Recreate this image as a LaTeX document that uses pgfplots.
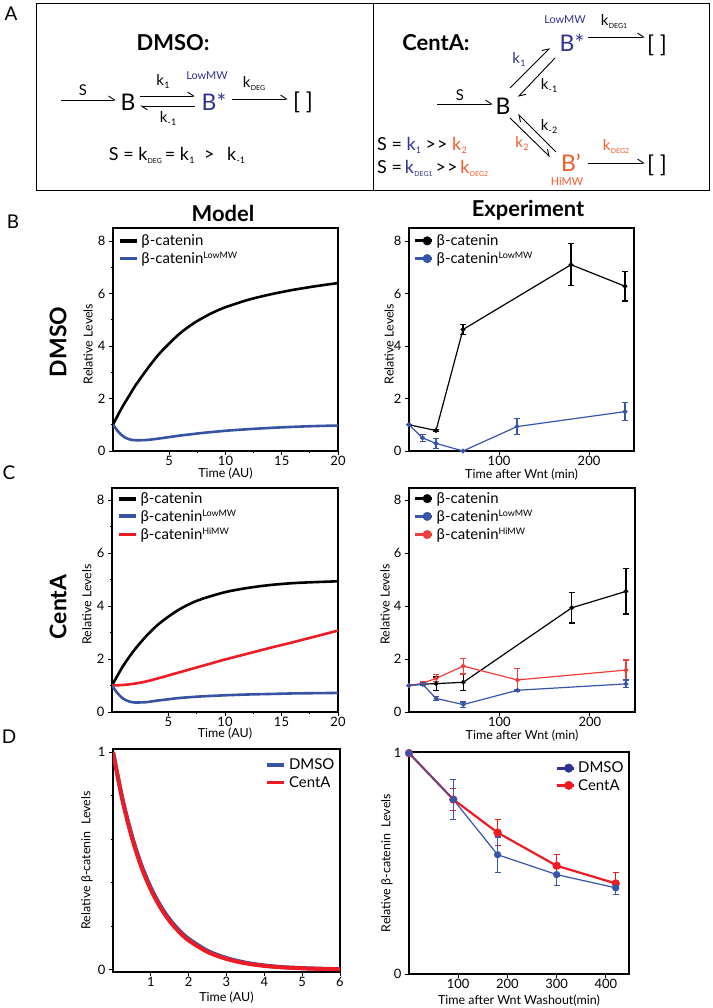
\documentclass[border=0pt]{standalone}
\usepackage{fontspec}
\setmainfont{Lato}
\usepackage{pgfplots}
\pgfplotsset{compat=1.18}
\usetikzlibrary{arrows.meta}
\definecolor{sblue}{RGB}{46,49,146}
\definecolor{sorange}{RGB}{241,90,41}
\definecolor{pblue}{RGB}{57,83,164}
\definecolor{pred}{RGB}{237,28,36}
\definecolor{eblue}{RGB}{55,85,170}
\definecolor{ered}{RGB}{240,60,60}
\newcommand{\fs}[1]{\fontsize{#1}{#1}\selectfont}
\newcommand{\ks}[1]{k\kern0.3bp\raisebox{-3bp}{\fs{7}#1}}
\newcommand{\kb}[1]{k\kern0.3bp\raisebox{-3bp}{\fs{9}#1}}
\newcommand{\mgg}{>\kern1bp>}
\newcommand{\cat}{β-catenin}
\tikzset{har/.style={line width=0.9bp,-{Straight Barb[left,length=6bp,width=8bp]}}}
\pgfplotsset{
  base/.style={scale only axis, axis line style={line width=1.1bp},
    every tick/.style={black, line width=0.8bp}, major tick length=4bp, minor tick length=2.5bp,
    tick align=outside, xtick pos=bottom, ytick pos=left,
    /pgf/number format/assume math mode=true,
    ticklabel style={font=\fs{13}}, xticklabel style={yshift=2bp}, label style={font=\fs{12.5}},
    legend cell align=left,
    legend style={draw=none, fill=none, inner sep=0bp, font=\fs{15}, row sep=1bp,
      /tikz/every odd column/.append style={column sep=1bp}}},
  modleg/.style={legend image code/.code={\draw[##1, line width=3.8bp] (0bp,0bp) -- (17bp,0bp);}},
  expleg/.style={legend image code/.code={\draw[##1, line width=3bp] (0bp,0bp) -- (17bp,0bp); \fill[##1] (12bp,0bp) circle (4.3bp);}},
  mline/.style={line width=2.6bp, smooth},
  eline/.style={line width=1.2bp, mark=*, mark size=1.8bp,
    error bars/y dir=both, error bars/y explicit,
    error bars/error bar style={line width=1.2bp},
    error bars/error mark options={rotate=90, mark size=3bp, line width=1.2bp}},
}
\begin{document}
\begin{tikzpicture}[x=1bp,y=1bp]
\path[use as bounding box] (0,0) rectangle (713,1008);
% ---------- Panel A ----------
\node[font=\fs{19}] at (11,994) {A};
\draw[line width=1bp] (36,1004) rectangle (709,817);
\draw[line width=1bp] (373,1004) -- (373,817);
\node[font=\bfseries\fs{22}] at (173,965) {DMSO:};
\node[font=\bfseries\fs{22}] at (436,965) {CentA:};
% DMSO scheme
\draw[har] (61,908) -- (116,908);
\node[font=\fs{15}] at (83,918) {S};
\node[font=\fs{23}] at (128,906) {B};
\draw[har] (140,912) -- (195,912);
\draw[har] (195,902) -- (140,902);
\node[font=\fs{15}] at (163,926) {\kb{1}};
\node[font=\fs{15}] at (168,889) {\kb{-1}};
\node[font=\fs{11}, text=sblue] at (207,932) {LowMW};
\node[font=\fs{23}, text=sblue] at (214,906) {B*};
\draw[har] (232,909) -- (288,909);
\node[font=\fs{15}] at (254,924) {\ks{DEG}};
\node[font=\fs{23}] at (303,906) {[ ]};
\node[font=\fs{18}] at (177,853) {S = \ks{DEG}\,= \kb{1}\; >\;\, \kb{-1}};
% CentA scheme
\draw[har] (437,904) -- (493,904);
\node[font=\fs{15}] at (460,913) {S};
\node[font=\fs{23}] at (503,902) {B};
\draw[har] (510,920) -- (550,960);
\draw[har] (555,950) -- (518,911);
\node[font=\fs{15}, text=sblue] at (519,948) {\kb{1}};
\node[font=\fs{15}] at (549,922) {\kb{-1}};
\node[font=\fs{23}, text=sblue] at (572,965) {B*};
\node[font=\fs{11}, text=sblue] at (565,988) {LowMW};
\draw[har] (588,971) -- (645,971);
\node[font=\fs{15}] at (614,986) {\ks{DEG1}};
\node[font=\fs{23}] at (657,963) {[ ]};
\draw[har] (510,890) -- (550,851);
\draw[har] (556,856) -- (518,894);
\node[font=\fs{15}] at (549,881) {\kb{-2}};
\node[font=\fs{15}, text=sorange] at (522,864) {\kb{2}};
\node[font=\fs{23}, text=sorange] at (571,845) {B’};
\node[font=\fs{11}, text=sorange] at (567,826) {HiMW};
\draw[har] (588,845) -- (645,845);
\node[font=\fs{15}, text=sorange] at (616,861) {\ks{DEG2}};
\node[font=\fs{23}] at (657,843) {[ ]};
\node[font=\fs{18}, anchor=west, inner sep=0pt] at (377,863) {S = \textcolor{sblue}{\kb{1}} \mgg{} \textcolor{sorange}{\kb{2}}};
\node[font=\fs{18}, anchor=west, inner sep=0pt] at (377,840) {S =\,\textcolor{sblue}{\ks{DEG1}}\,\mgg{}\,\textcolor{sorange}{\ks{DEG2}}};
% ---------- labels ----------
\node[font=\fs{19}] at (13,786) {B};
\node[font=\fs{19}] at (9,535) {C};
\node[font=\fs{19}] at (9,271) {D};
\node[font=\bfseries\fs{22}] at (223,795) {Model};
\node[font=\bfseries\fs{22}] at (528,798) {Experiment};
\node[font=\bfseries\fs{23}, rotate=90] at (58,666) {DMSO};
\node[font=\bfseries\fs{23}, rotate=90] at (58,401) {CentA};
% ---------- B left ----------
\begin{axis}[base, modleg, at={(113bp,557bp)}, anchor=south west, width=225bp, height=223bp,
  xmin=0, xmax=20, ymin=0, ymax=8.5, xtick={5,10,15,20}, minor x tick num=1,
  ytick={0,2,4,6,8}, minor y tick num=1,
  xlabel={Time (AU)}, ylabel={Relative Levels},
  xlabel style={at={(axis description cs:0.5,-0.1)}, anchor=center},
  ylabel style={at={(axis description cs:-0.111,0.48)}, anchor=center},
  legend style={at={(0.02,0.98)}, anchor=north west}]
\addlegendimage{black}\addlegendentry{\cat}
\addlegendimage{pblue}\addlegendentry{\cat\textsuperscript{\fs{9}LowMW}}
\addplot[black, mline, forget plot] coordinates {(0,1.0) (0.5,1.42) (1,1.8) (1.5,2.15) (2,2.5) (3,3.1) (4,3.65) (5,4.1) (6,4.5) (7,4.82) (8,5.08) (9,5.3) (10,5.48) (12,5.76) (14,5.97) (16,6.14) (18,6.28) (20,6.4)};
\addplot[pblue, mline, forget plot] coordinates {(0,1.0) (0.5,0.72) (1,0.53) (1.5,0.44) (2,0.41) (3,0.42) (4,0.47) (5,0.53) (6,0.59) (7,0.64) (8,0.69) (10,0.77) (12,0.83) (14,0.88) (16,0.92) (18,0.95) (20,0.97)};
\end{axis}
% ---------- B right ----------
\begin{axis}[base, expleg, clip=false, at={(409bp,557bp)}, anchor=south west, width=225bp, height=223bp,
  xmin=0, xmax=250, ymin=0, ymax=8.5, xtick={100,200}, ytick={0,2,4,6,8},
  xlabel={Time after Wnt (min)}, ylabel={Relative Levels},
  xlabel style={at={(axis description cs:0.5,-0.105)}, anchor=center},
  ylabel style={at={(axis description cs:-0.089,0.48)}, anchor=center},
  legend style={at={(0.02,0.98)}, anchor=north west}]
\addlegendimage{black}\addlegendentry{\cat}
\addlegendimage{eblue}\addlegendentry{\cat\textsuperscript{\fs{9}LowMW}}
\addplot[black, eline, forget plot] coordinates {(0,1) +- (0,0) (30,0.78) +- (0,0.05) (60,4.63) +- (0,0.2) (180,7.1) +- (0,0.8) (240,6.28) +- (0,0.56)};
\addplot[eblue, eline, forget plot] coordinates {(0,1) +- (0,0) (15,0.5) +- (0,0.13) (30,0.29) +- (0,0.2) (60,0.0) +- (0,0.03) (120,0.93) +- (0,0.3) (240,1.5) +- (0,0.34)};
\end{axis}
% ---------- C left ----------
\begin{axis}[base, modleg, at={(112bp,296bp)}, anchor=south west, width=226bp, height=224bp,
  xmin=0, xmax=20, ymin=0, ymax=8.45, xtick={5,10,15,20}, minor x tick num=1,
  ytick={0,2,4,6,8}, minor y tick num=1,
  xlabel={Time (AU)}, ylabel={Relative Levels},
  xlabel style={at={(axis description cs:0.5,-0.097)}, anchor=center},
  ylabel style={at={(axis description cs:-0.111,0.48)}, anchor=center},
  legend style={at={(0.02,0.99)}, anchor=north west}]
\addlegendimage{black}\addlegendentry{\cat}
\addlegendimage{pblue}\addlegendentry{\cat\textsuperscript{\fs{9}LowMW}}
\addlegendimage{pred}\addlegendentry{\cat\textsuperscript{\fs{9}HiMW}}
\addplot[black, mline, forget plot] coordinates {(0,1.0) (1,1.75) (2,2.35) (3,2.85) (4,3.27) (5,3.6) (6,3.88) (7,4.1) (8,4.27) (10,4.52) (12,4.68) (14,4.79) (16,4.86) (18,4.9) (20,4.93)};
\addplot[pred, mline, forget plot] coordinates {(0,1.0) (1,1.02) (2,1.07) (3,1.15) (4,1.26) (5,1.38) (6,1.5) (7,1.62) (8,1.74) (9,1.86) (10,1.98) (12,2.2) (14,2.42) (16,2.63) (18,2.85) (20,3.07)};
\addplot[pblue, mline, forget plot] coordinates {(0,1.0) (0.5,0.7) (1,0.5) (1.5,0.4) (2,0.36) (3,0.37) (4,0.43) (5,0.48) (6,0.53) (8,0.59) (10,0.63) (12,0.66) (14,0.68) (16,0.7) (18,0.71) (20,0.72)};
\end{axis}
% ---------- C right ----------
\begin{axis}[base, expleg, clip=false, at={(409bp,296bp)}, anchor=south west, width=226bp, height=224bp,
  xmin=0, xmax=250, ymin=0, ymax=8.45, xtick={100,200}, ytick={0,2,4,6,8},
  xlabel={Time after Wnt (min)}, ylabel={Relative Levels},
  xlabel style={at={(axis description cs:0.5,-0.105)}, anchor=center},
  ylabel style={at={(axis description cs:-0.106,0.48)}, anchor=center},
  legend style={at={(0.02,0.99)}, anchor=north west}]
\addlegendimage{black}\addlegendentry{\cat}
\addlegendimage{eblue}\addlegendentry{\cat\textsuperscript{\fs{9}LowMW}}
\addlegendimage{ered}\addlegendentry{\cat\textsuperscript{\fs{9}HiMW}}
\addplot[black, eline, forget plot] coordinates {(0,1) +- (0,0) (15,1.05) +- (0,0.05) (30,1.07) +- (0,0.25) (60,1.12) +- (0,0.3) (180,3.93) +- (0,0.57) (240,4.55) +- (0,0.85)};
\addplot[ered, eline, forget plot] coordinates {(0,1) +- (0,0) (15,1.08) +- (0,0.05) (30,1.27) +- (0,0.13) (60,1.73) +- (0,0.3) (120,1.21) +- (0,0.42) (240,1.58) +- (0,0.38)};
\addplot[eblue, eline, forget plot] coordinates {(0,1) +- (0,0) (15,1.05) +- (0,0.05) (30,0.51) +- (0,0.08) (60,0.28) +- (0,0.1) (120,0.82) +- (0,0.04) (240,1.06) +- (0,0.15)};
\end{axis}
% ---------- D left ----------
\begin{axis}[base, modleg, at={(113bp,36bp)}, anchor=south west, width=227bp, height=223bp,
  xmin=0, xmax=6, ymin=-0.01, ymax=1.014, xtick={1,2,3,4,5,6},
  ytick={0,1}, minor ytick={0.2,0.4,0.6,0.8},
  xlabel={Time (AU)}, ylabel={Relative \cat\ \ Levels},
  xlabel style={at={(axis description cs:0.5,-0.115)}, anchor=center},
  ylabel style={at={(axis description cs:-0.115,0.5)}, anchor=center},
  legend style={at={(0.985,0.965)}, anchor=north east}]
\addlegendimage{pblue}\addlegendentry{DMSO}
\addlegendimage{pred}\addlegendentry{CentA}
\addplot[pblue, line width=4bp, smooth, forget plot] coordinates {(0,1) (0.25,0.785) (0.5,0.615) (0.75,0.481) (1,0.377) (1.25,0.295) (1.5,0.231) (1.75,0.181) (2,0.142) (2.5,0.087) (3,0.054) (3.5,0.033) (4,0.02) (4.5,0.012) (5,0.008) (5.5,0.005) (6,0.003)};
\addplot[pred, line width=4bp, smooth, forget plot] coordinates {(0,1) (0.25,0.779) (0.5,0.607) (0.75,0.472) (1,0.368) (1.25,0.287) (1.5,0.223) (1.75,0.174) (2,0.135) (2.5,0.082) (3,0.05) (3.5,0.03) (4,0.018) (4.5,0.011) (5,0.007) (5.5,0.004) (6,0.0025)};
\end{axis}
% ---------- D right ----------
\begin{axis}[base, expleg, clip=false, at={(409bp,34bp)}, anchor=south west, width=220bp, height=222bp,
  xmin=0, xmax=447, ymin=0, ymax=1.005, xtick={100,200,300,400}, ytick={0,1},
  xlabel={Time after Wnt Washout(min)}, ylabel={Relative \cat\ \ Levels},
  xlabel style={at={(axis description cs:0.5,-0.12)}, anchor=center},
  ylabel style={at={(axis description cs:-0.1,0.5)}, anchor=center},
  legend style={at={(0.985,0.965)}, anchor=north east}]
\addlegendimage{sblue}\addlegendentry{DMSO}
\addlegendimage{pred}\addlegendentry{CentA}
\addplot[pred, eline, line width=2.2bp, mark size=3bp, forget plot] coordinates {(0,1) +- (0,0) (90,0.79) +- (0,0.05) (180,0.64) +- (0,0.06) (300,0.49) +- (0,0.05) (420,0.41) +- (0,0.05)};
\addplot[eblue, eline, mark size=3bp, forget plot] coordinates {(0,1) +- (0,0) (90,0.79) +- (0,0.09) (180,0.54) +- (0,0.08) (300,0.45) +- (0,0.05) (420,0.39) +- (0,0.03)};
\end{axis}
\end{tikzpicture}
\end{document}
